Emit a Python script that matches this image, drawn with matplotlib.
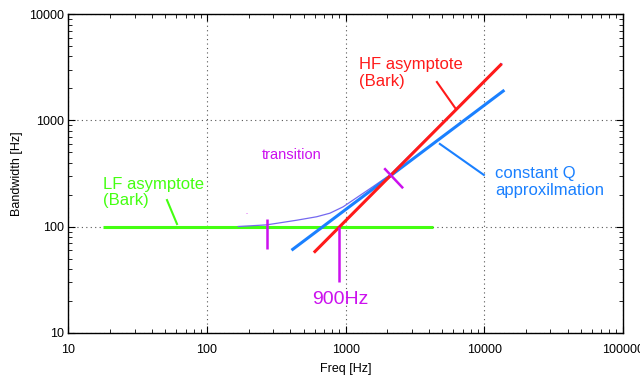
import matplotlib
matplotlib.use("Agg")
import matplotlib.pyplot as plt
import numpy as np

plt.rcParams["font.family"] = ["Liberation Sans", "DejaVu Sans"]

# LF asymptote (Bark), constant 100 Hz
lf_freq = [17.7, 4270]
lf_bw = [100, 100]

# HF asymptote (Bark)
hf_freq = [590, 13400]
hf_bw = [57, 3420]

# constant Q approximation
cq_freq = [407, 14000]
cq_bw = [60, 1930]

# transition curve
tr_freq = [168, 269, 443, 618, 771, 961, 1574, 2088, 4800, 13400]
tr_bw = [100.4, 104, 115, 124, 134, 154, 238, 307, 900, 3420]

# magenta markers
mark_lo = dict(freq=[269, 269], bw=[62, 118])
mark_900 = dict(freq=[900, 900], bw=[30, 100])
mark_x = dict(freq=[1900, 2600], bw=[355, 230])

# annotation pointers
hf_ptr = ([4560, 6250], [2300, 1283])
cq_ptr = ([4790, 9950], [601, 307])
lf_ptr = ([51.4, 60.7], [178, 106])

RED = "#ff1a1a"
BLUE = "#1a80ff"
GREEN = "#44ff11"
MAG = "#cc11ee"
CURVE = "#7468f0"

fig = plt.figure(figsize=(6.4, 3.84), dpi=100)
ax = fig.add_axes([0.107, 0.133, 0.866, 0.830])
ax.set_xscale("log")
ax.set_yscale("log")
ax.set_xlim(10, 1e5)
ax.set_ylim(10, 1e4)

ax.grid(True, which="major", linestyle=(0, (1, 3)), color="#555555", linewidth=0.8)

ax.plot(lf_freq, lf_bw, color=GREEN, lw=2.2, solid_capstyle="butt")
ax.plot(tr_freq, tr_bw, color=CURVE, lw=0.9)
ax.plot(cq_freq, cq_bw, color=BLUE, lw=2.2, solid_capstyle="butt")
ax.plot(hf_freq, hf_bw, color=RED, lw=2.2, solid_capstyle="butt")

for m in (mark_lo, mark_900, mark_x):
    ax.plot(m["freq"], m["bw"], color=MAG, lw=1.8, solid_capstyle="butt")

ax.plot(*hf_ptr, color=RED, lw=1.5)
ax.plot(*cq_ptr, color=BLUE, lw=1.5)
ax.plot(*lf_ptr, color=GREEN, lw=1.5)

ax.text(1248, 2773, "HF asymptote\n(Bark)", color=RED, fontsize=12,
        va="center", ha="left", linespacing=1.15)
ax.text(11940, 262, "constant Q\napproxilmation", color=BLUE, fontsize=12,
        va="center", ha="left", linespacing=1.15)
ax.text(17.7, 210, "LF asymptote\n(Bark)", color=GREEN, fontsize=12,
        va="center", ha="left", linespacing=1.15)
ax.text(249, 473, "transition", color=MAG, fontsize=10.5, va="center", ha="left")
ax.text(571, 20.6, "900Hz", color=MAG, fontsize=14, va="center", ha="left")
ax.text(188, 135, "..", color=MAG, fontsize=4, va="center", ha="left")

ax.tick_params(which="both", direction="in", top=True, right=True,
               labelsize=9, colors="black")
ax.tick_params(which="major", length=5)
ax.tick_params(which="minor", length=3)
ax.set_xticks([10, 100, 1000, 10000, 100000])
ax.set_xticklabels(["10", "100", "1000", "10000", "100000"])
ax.set_yticks([10, 100, 1000, 10000])
ax.set_yticklabels(["10", "100", "1000", "10000"])
ax.tick_params(axis="x", pad=8)
ax.set_xlabel("Freq [Hz]", fontsize=9, labelpad=5)
ax.set_ylabel("Bandwidth [Hz]", fontsize=9, labelpad=4)
for s in ax.spines.values():
    s.set_linewidth(1.0)

fig.savefig("out.png", dpi=100)
